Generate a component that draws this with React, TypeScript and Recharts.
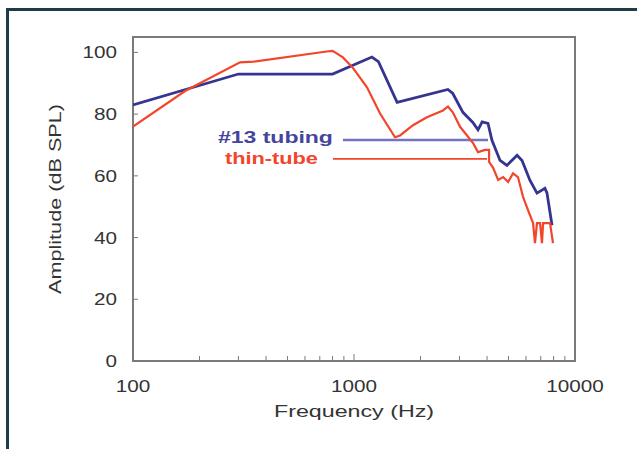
import { LineChart, Line, XAxis, YAxis, ReferenceArea, ReferenceLine, Label } from "recharts";

// frequency axis ticks (log, minor ticks every step inside each decade)
const freqTicks = [100, 200, 300, 400, 500, 600, 700, 800, 900, 1000, 2000, 3000, 4000, 5000, 6000, 7000, 8000, 9000, 10000];
const freqLabels = [100, 1000, 10000];
const ampTicks = [0, 20, 40, 60, 80, 100];

// #13 tubing
const tubingFreq = [100, 300, 800, 1205, 1290, 1567, 2660, 2800, 3110, 3450, 3640, 3800, 4040, 4210, 4580, 4920, 5470, 5760, 6250, 6730, 7310, 7470, 7870];
const tubingAmp = [83, 93, 93, 98.5, 97, 83.8, 88, 86.7, 80.6, 77.3, 74.9, 77.5, 77, 71.5, 65, 63.4, 66.7, 65, 58.6, 54.4, 56, 54.4, 44];

// thin-tube
const thinFreq = [100, 172, 305, 350, 753, 800, 891, 989, 1145, 1312, 1533, 1616, 1849, 2138, 2528, 2662, 2800, 3020, 3450, 3640, 3920, 4085, 4085, 4260, 4490, 4730, 4980, 5240, 5520, 5820, 6130, 6460, 6590, 6730, 6950, 7090, 7170, 7710, 7950];
const thinAmp = [76, 87.5, 96.8, 97, 100.3, 100.5, 98.4, 95, 88.7, 80.2, 72.5, 73.1, 76.4, 79, 81.2, 82.5, 80.6, 75.9, 70.7, 67.7, 68.4, 68.4, 64.5, 62.6, 58.7, 59.6, 58, 60.8, 59.6, 53.2, 48.9, 44.7, 38.2, 44.7, 44.7, 38.2, 44.7, 44.7, 38.2];

// annotation leaders
const tubingLeader = { f1: 891, f2: 4040, amp: 71.6 };
const thinLeader = { f1: 803, f2: 4000, amp: 65.5 };

const tubingData = tubingFreq.map((f, i) => ({ f, amp: tubingAmp[i] }));
const thinData = thinFreq.map((f, i) => ({ f, amp: thinAmp[i] }));

const BLUE = "#35358f";
const RED = "#f2452a";
const GRAY = "#7a7a7a";
const TEXT = "#333";
const FONT = "'Liberation Sans', Arial, Helvetica, sans-serif";
const DIGIT_W = 11.5;

function FreqTick(props: any) {
  const { x, y, payload } = props;
  const v = payload.value;
  const labelled = freqLabels.includes(v);
  const s = String(v);
  return (
    <g>
      {v !== 100 && v !== 10000 && (
        <line x1={x} x2={x} y1={y} y2={y - (v === 1000 ? 7 : 5)} stroke={GRAY} strokeWidth={1} />
      )}
      {labelled && (
        <text x={x} y={y + 31} textAnchor="middle" fontSize={16} fill={TEXT} fontFamily={FONT}
          textLength={s.length * DIGIT_W} lengthAdjust="spacingAndGlyphs">{s}</text>
      )}
    </g>
  );
}

function AmpTick(props: any) {
  const { x, y, payload } = props;
  const s = String(payload.value);
  return (
    <g>
      {payload.value !== 0 && <line x1={x} x2={x + 5} y1={y} y2={y} stroke={GRAY} strokeWidth={1} />}
      <text x={x - 16} y={y + 6} textAnchor="end" fontSize={16} fill={TEXT} fontFamily={FONT}
        textLength={s.length * DIGIT_W} lengthAdjust="spacingAndGlyphs">{s}</text>
    </g>
  );
}

export default function App() {
  return (
    <div style={{ position: "absolute", left: 0, top: 0, width: 637, height: 449, background: "#fff", overflow: "hidden" }}>
      <div style={{ position: "absolute", left: 6, top: 8, width: 640, height: 450, borderTop: "3px solid #203c48", borderLeft: "3px solid #203c48" }} />
      <div style={{ position: "absolute", left: 0, top: 0 }}>
        <LineChart width={637} height={449} margin={{ top: 37, right: 62, bottom: 28, left: 43 }}>
          <XAxis dataKey="f" type="number" scale="log" domain={[100, 10000]} allowDataOverflow ticks={freqTicks}
            interval={0} axisLine={false} tickLine={false} tickSize={0} tickMargin={0} height={60} tick={<FreqTick />}>
            <Label content={(p: any) => {
              const vb = p.viewBox || { x: 133, y: 361, width: 442 };
              return (
                <text x={vb.x + vb.width / 2} y={vb.y + 56} textAnchor="middle" fontSize={17} fill={TEXT}
                  fontFamily={FONT} textLength={160} lengthAdjust="spacingAndGlyphs">Frequency (Hz)</text>
              );
            }} />
          </XAxis>
          <YAxis type="number" domain={[0, 105]} ticks={ampTicks} interval={0} axisLine={false} tickLine={false}
            tickSize={0} tickMargin={0} width={90} tick={<AmpTick />}>
            <Label content={(p: any) => {
              const vb = p.viewBox || { x: 43, y: 37, height: 324 };
              const cx = vb.x + 18;
              const cy = 199;
              return (
                <text x={cx} y={cy} transform={`rotate(-90, ${cx}, ${cy})`} textAnchor="middle" fontSize={17}
                  fill={TEXT} fontFamily={FONT} textLength={190} lengthAdjust="spacingAndGlyphs">Amplitude (dB SPL)</text>
              );
            }} />
          </YAxis>
          <ReferenceArea x1={100} x2={10000} y1={0} y2={105} fill="none" stroke={GRAY} strokeWidth={2} ifOverflow="visible" />
          <ReferenceLine segment={[{ x: tubingLeader.f1, y: tubingLeader.amp }, { x: tubingLeader.f2, y: tubingLeader.amp }]}
            stroke="#7474c2" strokeWidth={2.5}>
            <Label content={(p: any) => {
              const vb = p.viewBox;
              if (!vb) return null;
              return (
                <text x={vb.x - 10} y={vb.y + 3} textAnchor="end" fontSize={16} fontWeight="bold" fill="#45459d"
                  fontFamily={FONT} textLength={115} lengthAdjust="spacingAndGlyphs">#13 tubing</text>
              );
            }} />
          </ReferenceLine>
          <ReferenceLine segment={[{ x: thinLeader.f1, y: thinLeader.amp }, { x: thinLeader.f2, y: thinLeader.amp }]}
            stroke={RED} strokeWidth={1.6}>
            <Label content={(p: any) => {
              const vb = p.viewBox;
              if (!vb) return null;
              return (
                <text x={vb.x - 15} y={vb.y + 5} textAnchor="end" fontSize={16} fontWeight="bold" fill={RED}
                  fontFamily={FONT} textLength={93} lengthAdjust="spacingAndGlyphs">thin-tube</text>
              );
            }} />
          </ReferenceLine>
          <Line data={tubingData} dataKey="amp" stroke={BLUE} strokeWidth={2.8} dot={false} isAnimationActive={false} type="linear" />
          <Line data={thinData} dataKey="amp" stroke={RED} strokeWidth={2.2} dot={false} isAnimationActive={false} type="linear" />
        </LineChart>
      </div>
    </div>
  );
}
